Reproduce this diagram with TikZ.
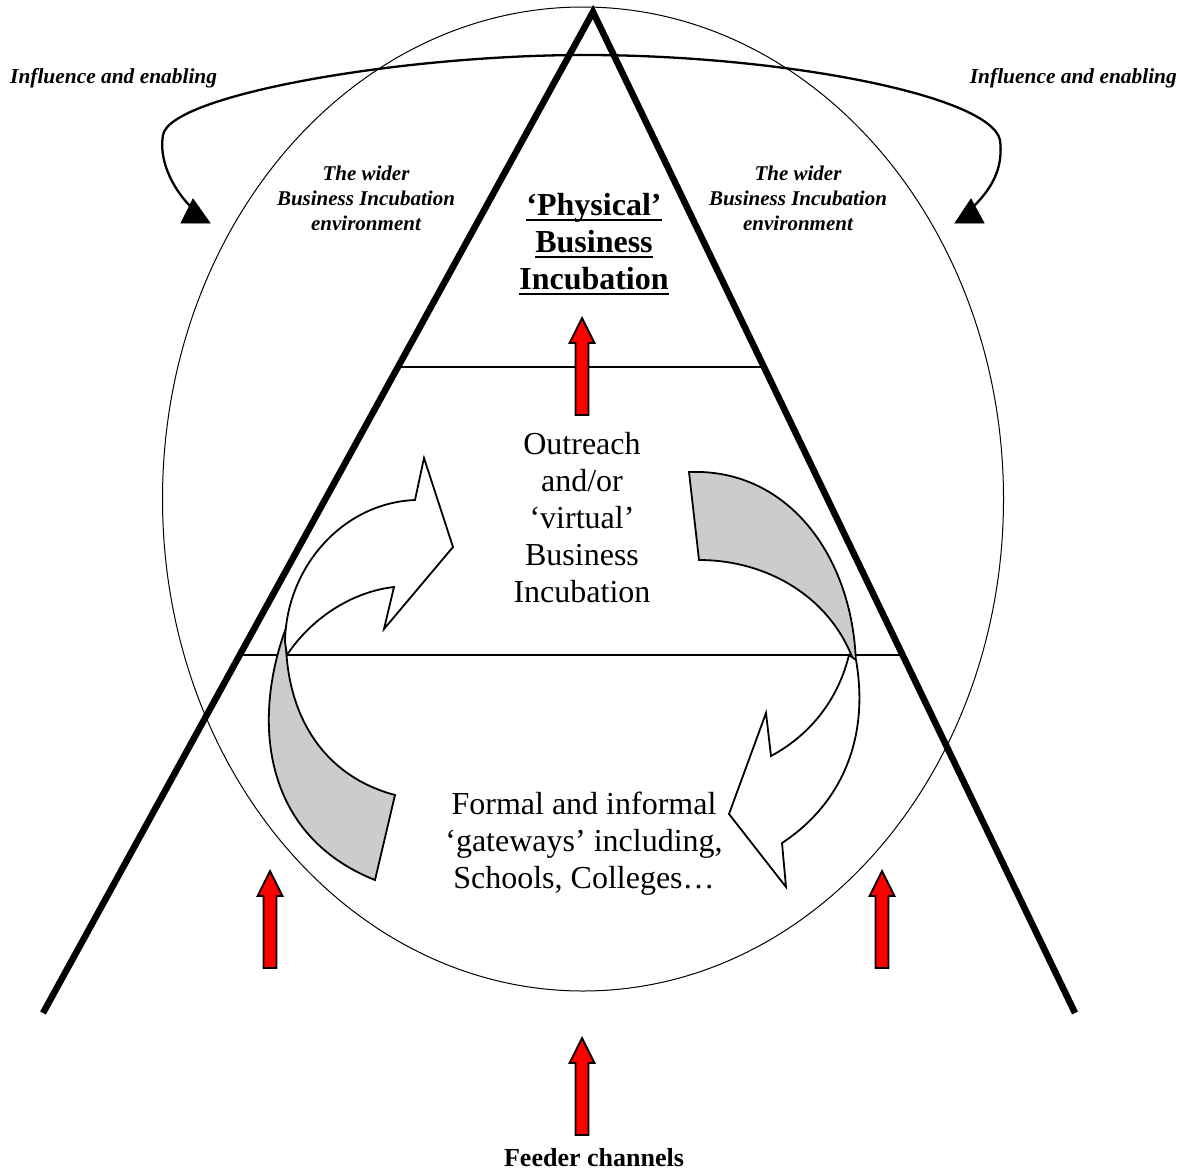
\documentclass[tikz,border=0pt]{standalone}
\usepackage{fontspec}
\setmainfont{Liberation Serif}
\usetikzlibrary{calc}
\definecolor{ribbon}{gray}{0.8}
\definecolor{feedred}{RGB}{255,0,0}
% underline drawn as a rule of fixed weight below the baseline
\newcommand\uln[1]{\setbox0\hbox{#1}\rlap{\rule[-5pt]{\wd0}{1.8pt}}\box0}
\begin{document}
\begin{tikzpicture}[x=1pt,y=-1pt,
  frame/.style={line width=6.5pt, line join=miter, line cap=butt},
  divider/.style={line width=1.8pt},
  ribbonline/.style={line width=1.8pt, line join=miter},
  influence/.style={line width=2.3pt},
  headfill/.style={fill=black, draw=black, line width=0.8pt, line join=miter},
  feedarrow/.style={fill=feedred, draw=black, line width=1.8pt, line join=miter},
  uparrow/.pic={\draw[feedarrow] (0,0) -- (12.5,25) -- (6.5,25) -- (6.5,97)
      -- (-6.5,97) -- (-6.5,25) -- (-12.5,25) -- cycle;},
  wider/.style={font=\fontsize{21}{25}\selectfont\bfseries\itshape, align=center, inner sep=0pt},
  inflabel/.style={font=\fontsize{21.4}{25}\selectfont\bfseries\itshape, inner sep=0pt},
  physical/.style={font=\fontsize{32}{37}\selectfont\bfseries, align=center, inner sep=0pt},
  plain/.style={font=\fontsize{32}{37}\selectfont, align=center, inner sep=0pt},
  feeder/.style={font=\fontsize{26}{30}\selectfont\bfseries, inner sep=0pt}
]
\useasboundingbox (0,0) rectangle (1188,1173);
\fill[white] (0,0) rectangle (1188,1173);

% the wider environment
\draw[line width=1pt] (583,499) ellipse [x radius=420.5, y radius=492];

% pyramid corners
\coordinate (apex) at (593,12);
\coordinate (lfoot) at (43,1013);
\coordinate (rfoot) at (1075,1013);

% level dividers
\draw[divider] ($(apex)!0.3546!(lfoot)$) -- ($(apex)!0.3546!(rfoot)$);
\draw[divider] ($(apex)!0.6424!(lfoot)$) -- ($(apex)!0.6424!(rfoot)$);

% influence and enabling arc with its two heads
\coordinate (ltail) at (190,206);
\coordinate (lbend) at (163,135);
\coordinate (crest) at (585,55);
\coordinate (rbend) at (1000,140);
\coordinate (rtail) at (974,206);
\draw[influence] (ltail) .. controls (170,185) and (159,158) .. (lbend)
  .. controls (170,95) and (400,55) .. (crest)
  .. controls (780,55) and (990,95) .. (rbend)
  .. controls (1003,165) and (995,185) .. (rtail);
\draw[headfill] (193,199) -- (210,223) -- (181,223) -- cycle;
\draw[headfill] (971,199) -- (984,223) -- (955,223) -- cycle;

% pyramid
\draw[frame] (lfoot) -- (apex) -- (rfoot);

% lower-left ribbon: grey underside, then white arrow
\draw[ribbonline, fill=ribbon] (286,628) .. controls (252,720) and (262,835) .. (375,880)
  -- (395,795) .. controls (320,775) and (283,710) .. (286,628) -- cycle;
\draw[ribbonline, fill=white] (287,655) -- (285,642)
  .. controls (286,568) and (342,503) .. (415,500)
  -- (424,458) -- (453,547) -- (384,629) -- (394,587)
  .. controls (350,592) and (310,620) .. (287,655) -- cycle;

% upper-right ribbon: grey underside, then white arrow
\draw[ribbonline, fill=ribbon] (689,472) .. controls (790,468) and (855,560) .. (856,668)
  .. controls (835,600) and (770,560) .. (699,560) -- cycle;
\draw[ribbonline, fill=white] (849,655) -- (856,660)
  .. controls (870,740) and (840,805) .. (782,843)
  -- (786,887) -- (729,814) -- (766,713) -- (771,756)
  .. controls (810,735) and (838,700) .. (849,655) -- cycle;

% feeder arrows
\pic (upTop) at (582,318) {uparrow};
\pic (upLeft) at (270,871) {uparrow};
\pic (upRight) at (882,871) {uparrow};
\pic (upFeed) at (582,1038) {uparrow};

% labels
\node[inflabel, anchor=west] (inflL) at (10,78) {Influence and enabling};
\node[inflabel, anchor=east] (inflR) at (1177,78) {Influence and enabling};
\node[wider] (envL) at (366,198) {The wider\\Business Incubation\\environment};
\node[wider] (envR) at (798,198) {The wider\\Business Incubation\\environment};
\node[physical] (phys) at (594,244) {\uln{‘Physical’}\\\uln{Business}\\\uln{Incubation}};
\node[plain] (outreach) at (582,518) {Outreach\\and/or\\‘virtual’\\Business\\Incubation};
\node[plain] (gateways) at (584,844) {Formal and informal\\‘gateways’ including,\\Schools, Colleges…};
\node[feeder] (feeder) at (594,1158) {Feeder channels};
\end{tikzpicture}
\end{document}
